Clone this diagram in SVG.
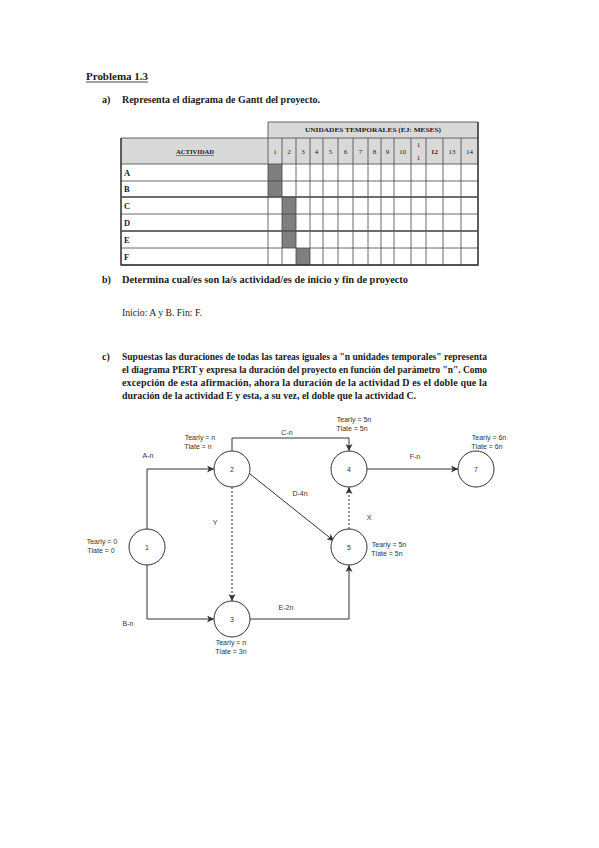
<svg xmlns="http://www.w3.org/2000/svg" width="599" height="848" viewBox="0 0 599 848">
<style>
.t{font-family:"Liberation Serif",serif;fill:#1a1a1a;font-weight:bold}
.tn{font-family:"Liberation Serif",serif;fill:#1a1a1a}
.h{font-size:10px}
.sm{font-family:"Liberation Serif",serif;font-size:7px;fill:#222;text-anchor:middle}
.grid{stroke:#444;stroke-width:0.8;fill:none}
.hd{fill:#d9d9d9}
.on{fill:#7f7f7f}
.d{font-family:"Liberation Sans",Arial,sans-serif;font-size:7px;fill:#333;text-anchor:middle}
.node circle{fill:#fff;stroke:#333;stroke-width:1}
.e{fill:none;stroke:#333;stroke-width:1}
.dash{stroke-dasharray:2,2}
</style>
<defs>
<marker id="arr" markerUnits="userSpaceOnUse" markerWidth="8" markerHeight="7" refX="7" refY="3.5" orient="auto">
<path d="M0,0 L7,3.5 L0,7 L1.8,3.5 z" fill="#333"/>
</marker>
</defs>
<rect width="599" height="848" fill="#fff"/>

<!-- Headings -->
<text class="t" x="86" y="80" font-size="11" textLength="62" lengthAdjust="spacingAndGlyphs">Problema 1.3</text>
<line x1="86" y1="82" x2="148" y2="82" stroke="#1a1a1a" stroke-width="0.8"/>
<text class="t h" x="102" y="103">a)</text>
<text class="t h" x="122" y="103" textLength="198" lengthAdjust="spacingAndGlyphs">Representa el diagrama de Gantt del proyecto.</text>

<!-- Gantt table -->
<g id="gantt">
<rect class="hd" x="268" y="122" width="210" height="16"/>
<rect class="hd" x="121" y="138" width="357" height="26"/>
<rect class="on" x="268" y="164" width="14" height="17"/>
<rect class="on" x="268" y="181" width="14" height="16"/>
<rect class="on" x="282" y="197" width="14" height="17"/>
<rect class="on" x="282" y="214" width="14" height="17"/>
<rect class="on" x="282" y="231" width="14" height="17"/>
<rect class="on" x="296" y="248" width="14" height="17"/>
<path class="grid" d="M268,122 H478 V265 H121 V138 H478 M268,122 V265 M121,164 H478 M121,181 H478 M121,197 H478 M121,214 H478 M121,231 H478 M121,248 H478 M282,138 V265 M296,138 V265 M310,138 V265 M323,138 V265 M338,138 V265 M353,138 V265 M368,138 V265 M381,138 V265 M394,138 V265 M411,138 V265 M426,138 V265 M443,138 V265 M461,138 V265"/>
<path d="M121,138 V265 H478 V122" fill="none" stroke="#333" stroke-width="1.3"/>
<path d="M121,197 H478 M121,231 H478" fill="none" stroke="#555" stroke-width="1.4"/>
<text class="t" x="373" y="132" font-size="7" text-anchor="middle" textLength="136" lengthAdjust="spacingAndGlyphs">UNIDADES TEMPORALES (EJ: MESES)</text>
<text class="t" x="195" y="154" font-size="7" text-anchor="middle" textLength="38" lengthAdjust="spacingAndGlyphs">ACTIVIDAD</text>
<line x1="176" y1="155.5" x2="214" y2="155.5" stroke="#222" stroke-width="0.5"/>
<text class="sm" x="275" y="154">1</text>
<text class="sm" x="289" y="154">2</text>
<text class="sm" x="303" y="154">3</text>
<text class="sm" x="316.5" y="154">4</text>
<text class="sm" x="330.5" y="154">5</text>
<text class="sm" x="345.5" y="154">6</text>
<text class="sm" x="360.5" y="154">7</text>
<text class="sm" x="374.5" y="154">8</text>
<text class="sm" x="387.5" y="154">9</text>
<text class="sm" x="402.5" y="154">10</text>
<text class="sm" x="418.5" y="147">1</text>
<text class="sm" x="418.5" y="160">1</text>
<text class="sm" x="434.5" y="154" font-weight="bold">12</text>
<text class="sm" x="452" y="154">13</text>
<text class="sm" x="469.5" y="154">14</text>
<text class="t" x="124" y="175.5" font-size="8.5">A</text>
<text class="t" x="124" y="192" font-size="8.5">B</text>
<text class="t" x="124" y="208.5" font-size="8.5">C</text>
<text class="t" x="124" y="225.5" font-size="8.5">D</text>
<text class="t" x="124" y="242.5" font-size="8.5">E</text>
<text class="t" x="124" y="259.5" font-size="8.5">F</text>
</g>

<!-- b) -->
<text class="t h" x="102" y="283">b)</text>
<text class="t h" x="122" y="283" textLength="286" lengthAdjust="spacingAndGlyphs">Determina cual/es son la/s actividad/es de inicio y fin de proyecto</text>
<text class="tn h" x="122" y="316" textLength="80" lengthAdjust="spacingAndGlyphs">Inicio: A y B. Fin: F.</text>

<!-- c) -->
<text class="t h" x="102" y="360">c)</text>
<text class="t h" x="122" y="360" textLength="365" lengthAdjust="spacingAndGlyphs">Supuestas las duraciones de todas las tareas iguales a "n unidades temporales" representa</text>
<text class="t h" x="122" y="373" textLength="365" lengthAdjust="spacingAndGlyphs">el diagrama PERT y expresa la duración del proyecto en función del parámetro "n". Como</text>
<text class="t h" x="122" y="386" textLength="365" lengthAdjust="spacing">excepción de esta afirmación, ahora la duración de la actividad D es el doble que la</text>
<text class="t h" x="122" y="399" textLength="294" lengthAdjust="spacingAndGlyphs">duración de la actividad E y esta, a su vez, el doble que la actividad C.</text>

<!-- PERT connectors -->
<g id="connectors">
<path class="e" d="M147,529 V469 H214" marker-end="url(#arr)"/>
<path class="e" d="M147,565 V619 H214" marker-end="url(#arr)"/>
<path class="e" d="M232,451 V438 H349 V451" marker-end="url(#arr)"/>
<path class="e" d="M250,474 L334,541" marker-end="url(#arr)"/>
<path class="e" d="M250,619 H349 V565" marker-end="url(#arr)"/>
<path class="e" d="M367,469 H458" marker-end="url(#arr)"/>
<path class="e dash" d="M349,529 V487" marker-end="url(#arr)"/>
<path class="e dash" d="M232,487 V601" marker-end="url(#arr)"/>
<text class="d" x="148" y="458">A-n</text>
<text class="d" x="128" y="626">B-n</text>
<text class="d" x="287" y="435">C-n</text>
<text class="d" x="300" y="496">D-4n</text>
<text class="d" x="286" y="610">E-2n</text>
<text class="d" x="415" y="459">F-n</text>
<text class="d" x="369" y="520">X</text>
<text class="d" x="215" y="525">Y</text>
</g>

<!-- PERT nodes -->
<g id="node1" class="node">
<circle cx="147" cy="547" r="18"/>
<text class="d" x="147" y="549.5">1</text>
<text class="d" x="102" y="543.5">Tearly = 0</text>
<text class="d" x="101" y="552.5">Tlate = 0</text>
</g>
<g id="node2" class="node">
<circle cx="232" cy="469" r="18"/>
<text class="d" x="232" y="471.5">2</text>
<text class="d" x="200" y="439.5">Tearly = n</text>
<text class="d" x="198" y="448.5">Tlate = n</text>
</g>
<g id="node3" class="node">
<circle cx="232" cy="619" r="18"/>
<text class="d" x="232" y="621.5">3</text>
<text class="d" x="231" y="644.5">Tearly = n</text>
<text class="d" x="231" y="653.5">Tlate = 3n</text>
</g>
<g id="node4" class="node">
<circle cx="349" cy="469" r="18"/>
<text class="d" x="349" y="471.5">4</text>
<text class="d" x="354" y="421.5">Tearly = 5n</text>
<text class="d" x="352" y="430.5">Tlate = 5n</text>
</g>
<g id="node5" class="node">
<circle cx="349" cy="547" r="18"/>
<text class="d" x="349" y="549.5">5</text>
<text class="d" x="389" y="546.5">Tearly = 5n</text>
<text class="d" x="387" y="555.5">Tlate = 5n</text>
</g>
<g id="node7" class="node">
<circle cx="476" cy="469" r="18"/>
<text class="d" x="476" y="471.5">7</text>
<text class="d" x="489" y="439.5">Tearly = 6n</text>
<text class="d" x="487" y="448.5">Tlate = 6n</text>
</g>
</svg>
